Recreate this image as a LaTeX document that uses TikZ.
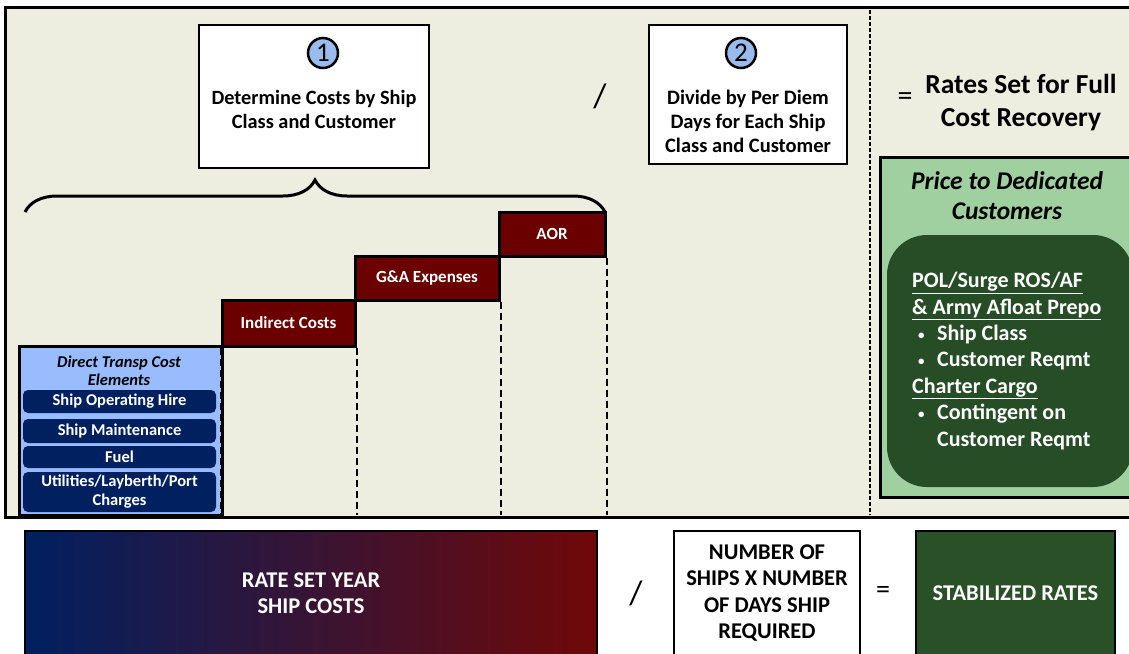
\documentclass[tikz,border=0pt]{standalone}
\usepackage{fontspec}
\setmainfont{Carlito}
\usetikzlibrary{positioning, calc, decorations.pathreplacing}

\definecolor{panel}{RGB}{238,238,224}
\definecolor{lgreen}{RGB}{160,208,160}
\definecolor{dgreen}{RGB}{38,77,38}
\definecolor{sgreen}{RGB}{42,80,40}
\definecolor{dred}{RGB}{107,0,0}
\definecolor{lblue}{RGB}{153,187,255}
\definecolor{navy}{RGB}{0,32,96}
\definecolor{cblue}{RGB}{153,187,238}
\definecolor{gradred}{RGB}{112,8,8}

\newcommand{\fsz}[2]{\fontsize{#1}{#2}\selectfont}
\newcommand{\bul}[1]{\hspace*{6pt}\makebox[19pt][l]{\raisebox{1pt}{\fsz{13}{13}\textbullet}}#1}

\tikzset{
  stepbox/.style={draw=black, line width=3pt, fill=dred, text=white,
    font=\bfseries\fsz{17}{18}, inner sep=0pt},
  elembox/.style={fill=navy, rounded corners=5pt, text=white, align=center,
    font=\bfseries\fsz{16.5}{19}, minimum width=193pt, inner sep=0pt},
  infobox/.style={draw=black, line width=1.5pt, fill=white, inner sep=0pt},
  numcirc/.style={circle, draw=black, line width=2.5pt, fill=cblue,
    minimum size=30pt, inner sep=0pt, font=\fsz{27}{27}},
  vdash/.style={line width=2pt, dash pattern=on 7pt off 4pt},
  sepline/.style={line width=2pt, dash pattern=on 4pt off 2pt},
  optext/.style={font=\fsz{34}{34}, inner sep=0pt},
  botbox/.style={draw=black, line width=2pt, inner sep=0pt,
    minimum height=124pt, align=center, font=\bfseries\fsz{22.5}{26.5}}
}

\begin{document}
\begin{tikzpicture}[x=1pt, y=-1pt]
  \useasboundingbox (0,0) rectangle (1129,653);

  % top panel
  \draw[line width=3pt, fill=panel] (5,7) rectangle (1140,517);

  % step 1
  \node[infobox, minimum width=230pt, minimum height=143pt] (det) at (314,96.5) {};
  \node[numcirc] (one) at (323,53) {1};
  \node[align=center, font=\bfseries\fsz{20.3}{24}] (dettxt) at (314,109)
    {Determine Costs by Ship\\Class and Customer};

  \node[optext] (div1) at (600,96) {/};

  % step 2
  \node[infobox, minimum width=198pt, minimum height=139pt] (per) at (748,94.5) {};
  \node[numcirc] (two) at (741,53) {2};
  \node[align=center, font=\bfseries\fsz{20.5}{24}] (pertxt) at (748,121)
    {Divide by Per Diem\\Days for Each Ship\\Class and Customer};

  % separator
  \coordinate (stop) at (870,10);
  \coordinate (sbot) at (870,515);
  \draw[sepline] (stop) -- (sbot);

  \node[font=\fsz{30}{30}, inner sep=0pt] (eq1) at (905,99) {=};
  \node[align=center, font=\bfseries\fsz{27.5}{33}] (rates) at (1021,103)
    {Rates Set for Full\\Cost Recovery};

  % dedicated customers
  \node[draw=black, line width=3pt, fill=lgreen, minimum width=255pt,
    minimum height=340pt, inner sep=0pt] (ded) at (1007.5,327) {};
  \node[align=center, font=\bfseries\itshape\fsz{25.5}{30}] (dedtxt) at (1007,196)
    {Price to Dedicated\\Customers};
  \node[fill=dgreen, rounded corners=40pt, minimum width=246pt,
    minimum height=252pt, inner sep=0pt] (cust) at (1010,361) {};
  \node[anchor=west, align=left, text=white, inner sep=0pt,
    font=\bfseries\fsz{22}{26.4}] (custtxt) at (912,361)
    {\underline{POL/Surge ROS/AF}\\
     \underline{\& Army Afloat Prepo}\\
     \bul{Ship Class}\\
     \bul{Customer Reqmt}\\
     \underline{Charter Cargo}\\
     \bul{Contingent on}\\
     \hspace*{25pt}Customer Reqmt};

  % brace over the cost steps
  \draw[decorate, decoration={brace, amplitude=32pt}, line width=3pt]
    (25,212) -- (605,212);

  % cost steps
  \node[stepbox, minimum width=133pt, minimum height=46pt] (ind) at (288.5,323) {Indirect Costs};
  \node[stepbox, minimum width=144pt, minimum height=44pt] (gna) at (427,278) {G\&A Expenses};
  \node[stepbox, minimum width=106pt, minimum height=44pt] (aor) at (552,234) {AOR};

  \coordinate (floor) at (0,515);
  \draw[vdash] (ind.south east) -- (ind.south east |- floor);
  \draw[vdash] (gna.south east) -- (gna.south east |- floor);
  \draw[vdash] (aor.south east) -- (aor.south east |- floor);

  % direct cost elements
  \node[draw=black, line width=3pt, fill=lblue, minimum width=203pt,
    minimum height=169pt, inner sep=0pt] (dtc) at (120.5,430.5) {};
  \draw[vdash] (ind.south west) -- (ind.south west |- floor);
  \node[align=center, font=\bfseries\itshape\fsz{16.5}{18}] (dtctxt) at (119,371)
    {Direct Transp Cost\\Elements};
  \node[elembox, minimum height=23pt] (hire) at (119.5,401.5) {Ship Operating Hire};
  \node[elembox, minimum height=24pt] (mnt) at (119.5,431) {Ship Maintenance};
  \node[elembox, minimum height=22pt] (fuel) at (119.5,457) {Fuel};
  \node[elembox, minimum height=40pt] (util) at (119.5,492) {Utilities/Layberth/Port\\Charges};

  % bottom equation
  \node[botbox, minimum width=572pt, left color=navy, right color=gradred,
    text=white] (cost) at (311,593) {RATE SET YEAR\\SHIP COSTS};
  \node[optext] (div2) at (636,593) {/};
  \node[botbox, minimum width=186pt, fill=white] (ships) at (767,593)
    {NUMBER OF\\SHIPS X NUMBER\\OF DAYS SHIP\\REQUIRED};
  \node[font=\fsz{28}{28}, inner sep=0pt] (eq2) at (883,592) {=};
  \node[botbox, minimum width=199pt, fill=sgreen, text=white] (stab) at (1015.5,593)
    {STABILIZED RATES};
\end{tikzpicture}
\end{document}
